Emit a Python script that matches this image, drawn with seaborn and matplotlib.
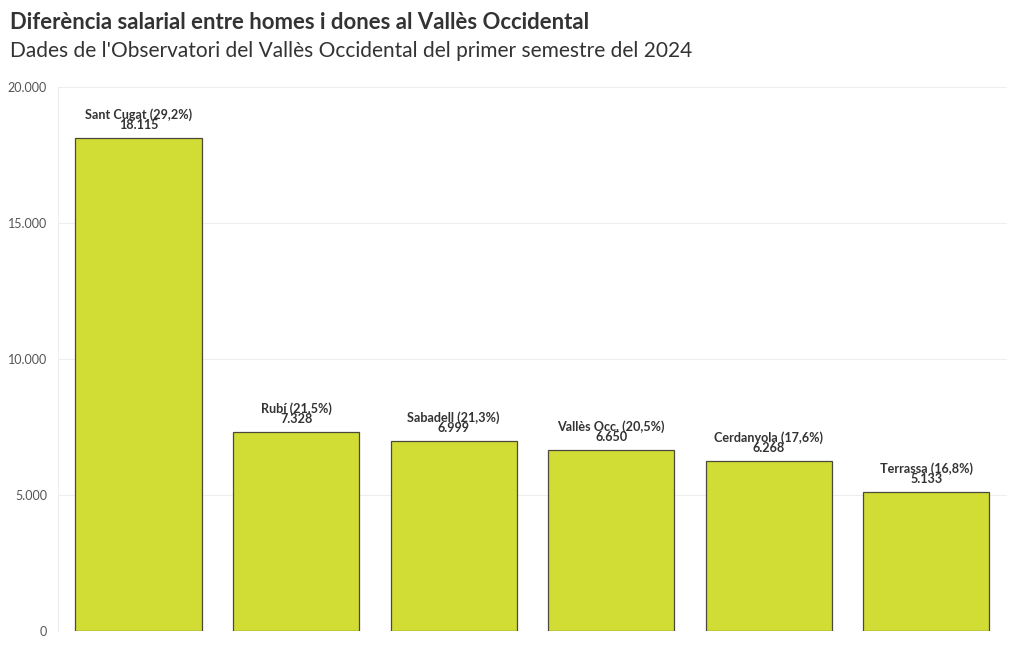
import seaborn as sns
import matplotlib.pyplot as plt
import matplotlib.ticker as mticker
import pandas as pd

sns.set_style("white")
plt.rcParams['font.family'] = ['Lato', 'DejaVu Sans']

municipis = ["Sant Cugat", "Rubí", "Sabadell", "Vallès Occ.", "Cerdanyola", "Terrassa"]
diferencia = [18115, 7328, 6999, 6650, 6268, 5133]
percentatge = ["29,2%", "21,5%", "21,3%", "20,5%", "17,6%", "16,8%"]


def fmt(v):
    return f"{v:,.0f}".replace(",", ".")


data = pd.DataFrame({"municipi": municipis, "diferencia": diferencia})

fig = plt.figure(figsize=(10.2, 6.5), dpi=100)
ax = fig.add_axes([0.057, 0.029, 0.93, 0.837])
sns.barplot(x="municipi", y="diferencia", data=data, color="#d1dc35",
            saturation=1, width=0.8, edgecolor="#4a4a3a", linewidth=0.9, ax=ax)

for bar, nom, pct, val in zip(ax.patches, municipis, percentatge, diferencia):
    cx = bar.get_x() + bar.get_width() / 2
    ax.annotate(f"{nom} ({pct})\n{fmt(val)}", (cx, bar.get_height()),
                xytext=(0, 5), textcoords="offset points", ha="center", va="bottom",
                fontsize=9.1, fontweight="bold", color="#333333", linespacing=0.8)

ax.set_ylim(0, 20000)
ax.set_xlim(-0.51, 5.51)
ax.set_yticks([0, 5000, 10000, 15000, 20000])
ax.yaxis.set_major_formatter(mticker.FuncFormatter(lambda v, p: fmt(v)))
ax.tick_params(axis="y", labelsize=9, colors="#555555", length=0, pad=8)
ax.set_xticks([])
ax.set_xlabel("")
ax.set_ylabel("")
ax.grid(axis="y", color="#eeeeee", linewidth=0.8)
ax.set_axisbelow(True)
for s in ["top", "right", "bottom"]:
    ax.spines[s].set_visible(False)
ax.spines["left"].set_color("#eeeeee")
ax.spines["left"].set_linewidth(0.8)

fig.text(0.01, 0.965, "Diferència salarial entre homes i dones al Vallès Occidental",
         fontsize=15.9, fontweight="bold", color="#333333", va="center")
fig.text(0.01, 0.922, "Dades de l'Observatori del Vallès Occidental del primer semestre del 2024",
         fontsize=15, color="#333333", va="center")

plt.savefig("out.png", dpi=100)
